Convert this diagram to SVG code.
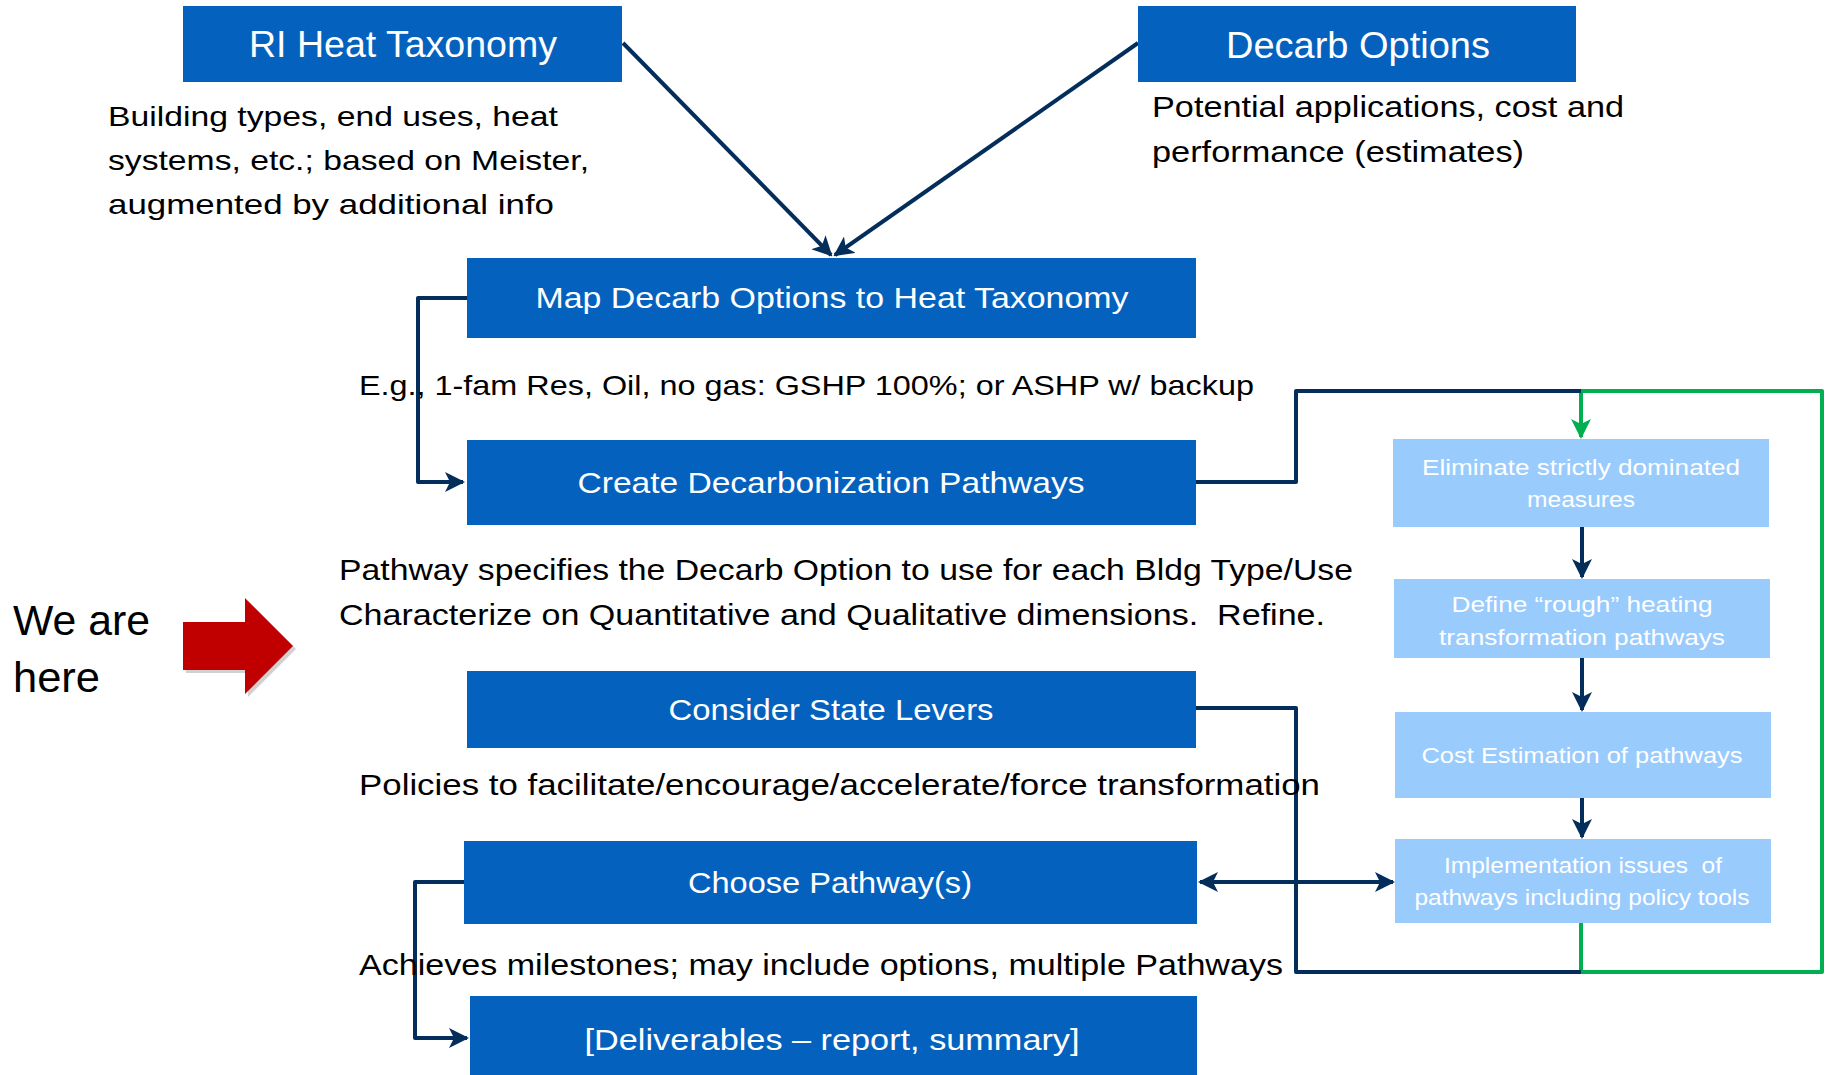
<svg xmlns="http://www.w3.org/2000/svg" width="1829" height="1075" viewBox="0 0 1829 1075">
<style>
.box{fill:#0462BE}
.lbox{fill:#99CBFD}
.bt{font-family:"Liberation Sans",Arial,sans-serif;fill:#fff;text-anchor:middle}
.t{font-family:"Liberation Sans",Arial,sans-serif;fill:#000}
.lt{font-family:"Liberation Sans",Arial,sans-serif;fill:#fff;text-anchor:middle;font-size:22px}
.nv{fill:none;stroke:#032D5B;stroke-width:4;stroke-linejoin:round}
.gr{fill:none;stroke:#00AF4F;stroke-width:4;stroke-linejoin:round}
</style>
<defs>
<marker id="ah" viewBox="0 0 10 10" refX="9" refY="5" markerWidth="5" markerHeight="5" orient="auto-start-reverse" markerUnits="strokeWidth">
<path d="M0,0 L10,5 L0,10 L2.5,5 z" fill="#032D5B"/>
</marker>
<marker id="ahg" viewBox="0 0 10 10" refX="9" refY="5" markerWidth="5" markerHeight="5" orient="auto" markerUnits="strokeWidth">
<path d="M0,0 L10,5 L0,10 L2.5,5 z" fill="#00AF4F"/>
</marker>
</defs>
<rect width="1829" height="1075" fill="#fff"/>

<g id="connectors">
<line class="nv" x1="623" y1="43" x2="831" y2="255" marker-end="url(#ah)"/>
<line class="nv" x1="1138" y1="43" x2="835" y2="255" marker-end="url(#ah)"/>
<path class="nv" d="M467,298 H418 V482 H463" marker-end="url(#ah)"/>
<path class="gr" d="M1581,923 V972 H1822 V391 H1581"/>
<path class="gr" d="M1581,391 V437" marker-end="url(#ahg)"/>
<path class="nv" d="M1196,482 H1296 V391 H1581"/>
<path class="nv" d="M1196,708 H1296 V972 H1581"/>
<path class="nv" d="M1582,527 V577" marker-end="url(#ah)"/>
<path class="nv" d="M1582,658 V710" marker-end="url(#ah)"/>
<path class="nv" d="M1582,798 V837" marker-end="url(#ah)"/>
<path class="nv" d="M1200,882 H1393" marker-start="url(#ah)" marker-end="url(#ah)"/>
<path class="nv" d="M464,882 H415 V1038 H467" marker-end="url(#ah)"/>
</g>

<g id="ri-heat-taxonomy">
<rect class="box" x="183" y="6" width="439" height="76"/>
<text class="bt" x="403" y="57" font-size="36" textLength="308" lengthAdjust="spacingAndGlyphs">RI Heat Taxonomy</text>
</g>
<g id="ri-heat-desc">
<text class="t" x="108" y="126" font-size="28" textLength="450" lengthAdjust="spacingAndGlyphs">Building types, end uses, heat</text>
<text class="t" x="108" y="170" font-size="28" textLength="481" lengthAdjust="spacingAndGlyphs">systems, etc.; based on Meister,</text>
<text class="t" x="108" y="214" font-size="28" textLength="446" lengthAdjust="spacingAndGlyphs">augmented by additional info</text>
</g>

<g id="decarb-options">
<rect class="box" x="1138" y="6" width="438" height="76"/>
<text class="bt" x="1358" y="58" font-size="36" textLength="264" lengthAdjust="spacingAndGlyphs">Decarb Options</text>
</g>
<g id="decarb-desc">
<text class="t" x="1152" y="117" font-size="29" textLength="472" lengthAdjust="spacingAndGlyphs">Potential applications, cost and</text>
<text class="t" x="1152" y="162" font-size="29" textLength="372" lengthAdjust="spacingAndGlyphs">performance (estimates)</text>
</g>

<g id="map-decarb">
<rect class="box" x="467" y="258" width="729" height="80"/>
<text class="bt" x="832" y="308" font-size="30" textLength="593" lengthAdjust="spacingAndGlyphs">Map Decarb Options to Heat Taxonomy</text>
</g>
<g id="map-desc">
<text class="t" x="359" y="395" font-size="28" textLength="895" lengthAdjust="spacingAndGlyphs">E.g., 1-fam Res, Oil, no gas: GSHP 100%; or ASHP w/ backup</text>
</g>

<g id="create-pathways">
<rect class="box" x="467" y="440" width="729" height="85"/>
<text class="bt" x="831" y="493" font-size="30" textLength="507" lengthAdjust="spacingAndGlyphs">Create Decarbonization Pathways</text>
</g>
<g id="create-desc">
<text class="t" x="339" y="580" font-size="29" textLength="1014" lengthAdjust="spacingAndGlyphs">Pathway specifies the Decarb Option to use for each Bldg Type/Use</text>
<text class="t" x="339" y="625" font-size="29" textLength="986" lengthAdjust="spacingAndGlyphs" xml:space="preserve">Characterize on Quantitative and Qualitative dimensions.  Refine.</text>
</g>

<g id="we-are-here">
<text class="t" x="13" y="635" font-size="42" textLength="137" lengthAdjust="spacingAndGlyphs">We are</text>
<text class="t" x="13" y="692" font-size="42" textLength="87" lengthAdjust="spacingAndGlyphs">here</text>
<polygon points="186,625 248,625 248,601 296,649 248,697 248,673 186,673" fill="#000" opacity="0.18"/>
<polygon points="183,622 245,622 245,598 293,646 245,694 245,670 183,670" fill="#C00000"/>
</g>

<g id="consider-levers">
<rect class="box" x="467" y="671" width="729" height="77"/>
<text class="bt" x="831" y="720" font-size="30" textLength="325" lengthAdjust="spacingAndGlyphs">Consider State Levers</text>
</g>
<g id="levers-desc">
<text class="t" x="359" y="795" font-size="29" textLength="961" lengthAdjust="spacingAndGlyphs">Policies to facilitate/encourage/accelerate/force transformation</text>
</g>

<g id="choose-pathways">
<rect class="box" x="464" y="841" width="733" height="83"/>
<text class="bt" x="830" y="893" font-size="30" textLength="284" lengthAdjust="spacingAndGlyphs">Choose Pathway(s)</text>
</g>
<g id="choose-desc">
<text class="t" x="359" y="975" font-size="29" textLength="924" lengthAdjust="spacingAndGlyphs">Achieves milestones; may include options, multiple Pathways</text>
</g>

<g id="deliverables">
<rect class="box" x="470" y="996" width="727" height="79"/>
<text class="bt" x="832" y="1050" font-size="30" textLength="495" lengthAdjust="spacingAndGlyphs">[Deliverables – report, summary]</text>
</g>

<g id="eliminate">
<rect class="lbox" x="1393" y="439" width="376" height="88"/>
<text class="lt" x="1581" y="475" textLength="318" lengthAdjust="spacingAndGlyphs">Eliminate strictly dominated</text>
<text class="lt" x="1581" y="507" textLength="108" lengthAdjust="spacingAndGlyphs">measures</text>
</g>
<g id="define">
<rect class="lbox" x="1394" y="579" width="376" height="79"/>
<text class="lt" x="1582" y="612" textLength="261" lengthAdjust="spacingAndGlyphs">Define “rough” heating</text>
<text class="lt" x="1582" y="645" textLength="286" lengthAdjust="spacingAndGlyphs">transformation pathways</text>
</g>
<g id="cost">
<rect class="lbox" x="1395" y="712" width="376" height="86"/>
<text class="lt" x="1582" y="763" textLength="321" lengthAdjust="spacingAndGlyphs">Cost Estimation of pathways</text>
</g>
<g id="implementation">
<rect class="lbox" x="1395" y="839" width="376" height="84"/>
<text class="lt" x="1583" y="873" textLength="278" lengthAdjust="spacingAndGlyphs" xml:space="preserve">Implementation issues  of</text>
<text class="lt" x="1582" y="905" textLength="335" lengthAdjust="spacingAndGlyphs">pathways including policy tools</text>
</g>
</svg>
